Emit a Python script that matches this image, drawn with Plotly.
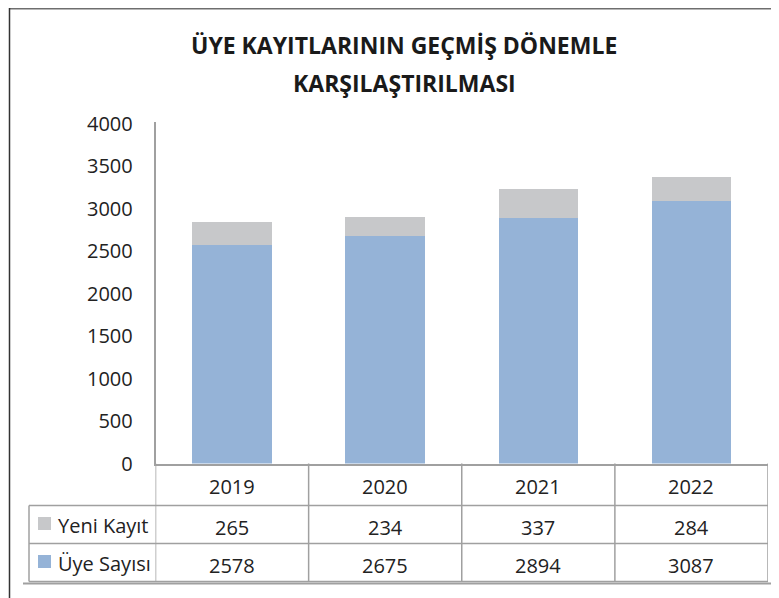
import plotly.graph_objects as go

# ---- data ----
years = ["2019", "2020", "2021", "2022"]
uye_sayisi = [2578, 2675, 2894, 3087]
yeni_kayit = [265, 234, 337, 284]
y_ticks = [0, 500, 1000, 1500, 2000, 2500, 3000, 3500, 4000]
series_names = ["Yeni Kayıt", "Üye Sayısı"]
title_lines = ["ÜYE KAYITLARININ GEÇMİŞ DÖNEMLE", "KARŞILAŞTIRILMASI"]

# ---- styling ----
W, H = 779, 598
OFF = 8  # page body margin
BLUE = "#95B3D7"
GRAY = "#C7C8CA"
TXT = "#222222"
LINE = "#A0A0A0"
FONT = "Open Sans"
FS = 20


def px(x):
    return (x - OFF) / W


def py(y):
    return 1 - (y - OFF) / H


X0, X1 = 155.5, 768      # plot area left/right (screen pixels)
Y0, YTOP = 463.5, 122    # y=0 and top of axis (screen pixels)
Y4000 = 124
YMAX = 4000 * (Y0 - YTOP) / (Y0 - Y4000)
ROW_1, ROW_2, ROW_3 = 505.5, 543.5, 581.5

fig = go.Figure()
fig.add_trace(go.Bar(x=years, y=uye_sayisi, name=series_names[1],
                     marker=dict(color=BLUE, line=dict(width=0)), width=0.52))
fig.add_trace(go.Bar(x=years, y=yeni_kayit, name=series_names[0],
                     marker=dict(color=GRAY, line=dict(width=0)), width=0.52))

shapes = []
# outer frame (top + left)
shapes.append(dict(type="line", xref="paper", yref="paper", x0=px(9), x1=1.0,
                   y0=py(OFF + 0.75), y1=py(OFF + 0.75), line=dict(color="#6E6E6E", width=1.5)))
shapes.append(dict(type="line", xref="paper", yref="paper", x0=px(9.5), x1=px(9.5),
                   y0=py(OFF), y1=0, line=dict(color="#333333", width=1.5)))

# table horizontal lines
for yy in (ROW_1, ROW_2, ROW_3):
    shapes.append(dict(type="line", xref="paper", yref="paper", x0=px(29), x1=px(X1),
                       y0=py(yy), y1=py(yy), line=dict(color=LINE, width=1.5)))
# bottom long line
shapes.append(dict(type="line", xref="paper", yref="paper", x0=px(23), x1=1.0,
                   y0=py(583.5), y1=py(583.5), line=dict(color=LINE, width=2)))
# table vertical lines (category boundaries via x axis)
for xv in (-0.5, 0.5, 1.5, 2.5, 3.5):
    shapes.append(dict(type="line", xref="x", yref="paper", x0=xv, x1=xv,
                       y0=py(Y0), y1=py(ROW_3), line=dict(color=LINE, width=1.5)))
shapes.append(dict(type="line", xref="paper", yref="paper", x0=px(29), x1=px(29),
                   y0=py(ROW_1), y1=py(ROW_3), line=dict(color=LINE, width=1.5)))

# legend squares
for color, yc in ((GRAY, 523.5), (BLUE, 561.5)):
    shapes.append(dict(type="rect", xref="paper", yref="paper",
                       x0=px(38), x1=px(51), y0=py(yc - 6.5), y1=py(yc + 6.5),
                       fillcolor=color, line=dict(width=0)))

annotations = []
# title
for line, yc in zip(title_lines, (45, 83)):
    annotations.append(dict(text="<b>" + line + "</b>", xref="paper", yref="paper",
                            x=px(404), y=py(yc), showarrow=False,
                            xanchor="center", yanchor="middle",
                            font=dict(family=FONT, size=23, color="#1A1A1A")))

# table cells: header (years) and both series rows, placed on the category axis
for i, yr in enumerate(years):
    for text, yc in ((yr, 486), (str(yeni_kayit[i]), 527), (str(uye_sayisi[i]), 565)):
        annotations.append(dict(text=text, xref="x", yref="paper", x=i, y=py(yc),
                                showarrow=False, xanchor="center", yanchor="middle",
                                font=dict(family=FONT, size=FS, color=TXT)))
# row labels
for name, yc in ((series_names[0], 525.5), (series_names[1], 563.5)):
    annotations.append(dict(text=name, xref="paper", yref="paper", x=px(56), y=py(yc),
                            showarrow=False, xanchor="left", yanchor="middle",
                            font=dict(family=FONT, size=FS, color=TXT)))

fig.update_layout(
    width=W, height=H, autosize=False,
    margin=dict(l=0, r=0, t=0, b=0, pad=0),
    paper_bgcolor="white", plot_bgcolor="white",
    barmode="stack", showlegend=False,
    shapes=shapes, annotations=annotations,
    xaxis=dict(domain=[px(X0), px(X1)], type="category", range=[-0.5, 3.5],
               automargin=False, showticklabels=False, showgrid=False, zeroline=False,
               showline=True, linecolor=LINE, linewidth=1.5, ticks=""),
    yaxis=dict(domain=[py(Y0), py(YTOP)], range=[0, YMAX], tickvals=y_ticks,
               automargin=False, showgrid=False, zeroline=False, showline=True,
               linecolor=LINE, linewidth=1.5, ticks="", ticklabelstandoff=17,
               tickfont=dict(family=FONT, size=FS, color=TXT)),
)

fig.write_html("out.html")
